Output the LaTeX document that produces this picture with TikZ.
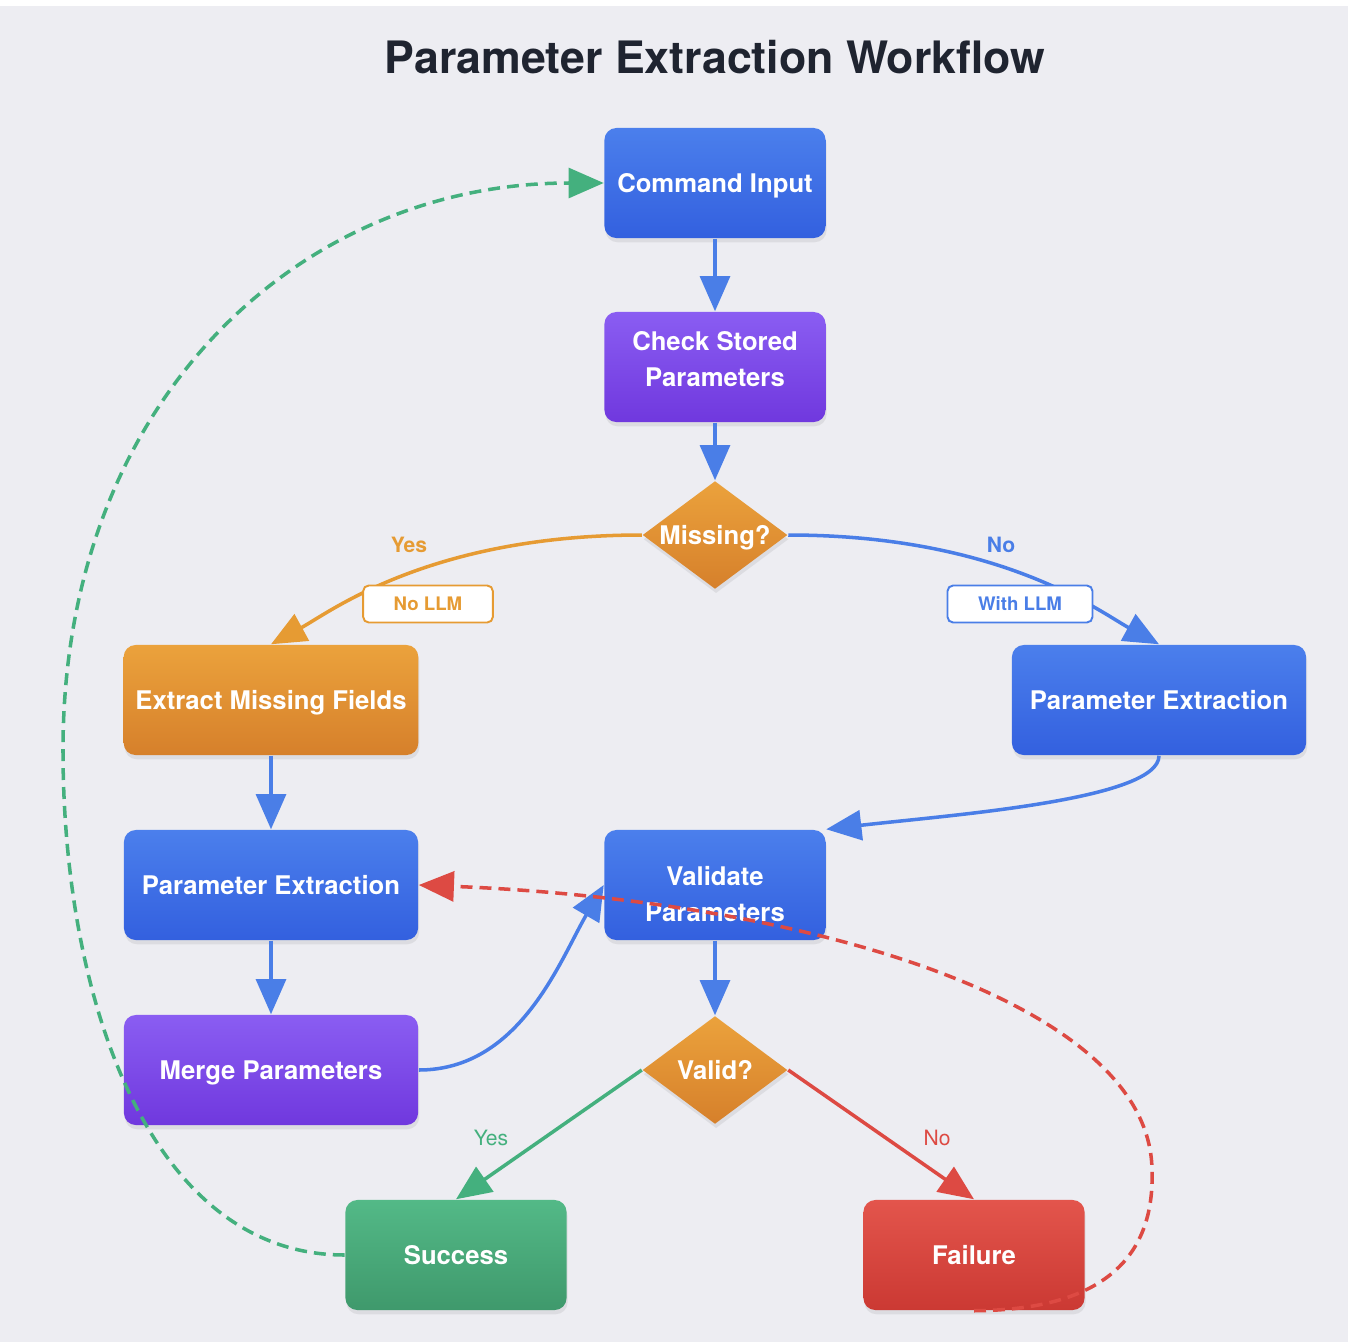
\documentclass[tikz,border=0pt]{standalone}
\usepackage{fontspec}
\setmainfont{TeX Gyre Heros}
\usetikzlibrary{arrows.meta, shapes.geometric, shadows}

\definecolor{bgcol}{HTML}{EDEDF2}
\definecolor{titlecol}{HTML}{1F2430}
\definecolor{blueT}{HTML}{4B7FEC}
\definecolor{blueB}{HTML}{3360DF}
\definecolor{purpT}{HTML}{8A5DF2}
\definecolor{purpB}{HTML}{7038DE}
\definecolor{orT}{HTML}{EBA23C}
\definecolor{orB}{HTML}{D6802B}
\definecolor{grT}{HTML}{53B987}
\definecolor{grB}{HTML}{3F996C}
\definecolor{rdT}{HTML}{E3554C}
\definecolor{rdB}{HTML}{CB3933}
\definecolor{bline}{HTML}{4A7EE7}
\definecolor{oline}{HTML}{E69B33}
\definecolor{gline}{HTML}{44B07E}
\definecolor{rline}{HTML}{DD4A43}

\begin{document}
\begin{tikzpicture}[x=0.01cm, y=-0.01cm,
    box/.style={rounded corners=3.4pt, minimum width=2.21cm, minimum height=1.1cm,
      align=center, text=white, text depth=0pt, font=\fontsize{7.3}{10.3}\selectfont\bfseries,
      drop shadow={opacity=0.15, shadow xshift=0.3pt, shadow yshift=-1.2pt}},
    wide/.style={box, minimum width=2.94cm},
    bluefill/.style={top color=blueT, bottom color=blueB},
    purplefill/.style={top color=purpT, bottom color=purpB},
    orangefill/.style={top color=orT, bottom color=orB},
    greenfill/.style={top color=grT, bottom color=grB},
    redfill/.style={top color=rdT, bottom color=rdB},
    decision/.style={diamond, aspect=1.34, minimum width=1.45cm, minimum height=1.08cm,
      inner sep=-1.5pt, orangefill, text=white, text depth=0pt,
      font=\fontsize{7.3}{9}\selectfont\bfseries,
      drop shadow={opacity=0.15, shadow xshift=0.3pt, shadow yshift=-1.2pt}},
    flow/.style={line width=1pt, -{Triangle[length=10pt, width=8.5pt]}},
    loopback/.style={flow, dash pattern=on 3.4pt off 2pt},
    tag/.style={draw, fill=white, rounded corners=1.6pt, line width=0.55pt,
      minimum height=0.37cm, inner xsep=8.7pt, inner ysep=0pt,
      font=\fontsize{5.3}{6}\selectfont\bfseries},
    branch/.style={font=\fontsize{6}{7}\selectfont\bfseries},
    verdict/.style={font=\fontsize{6}{7}\selectfont}
  ]

  % 1. Background and title
  \useasboundingbox (0,0) rectangle (1348,1342);
  \fill[bgcol] (0,0) rectangle (1348,1342);
  \fill[white] (0,0) rectangle (1348,6);
  \node[font=\fontsize{12.7}{15}\selectfont\bfseries, text=titlecol] (title) at (715,57) {Parameter Extraction Workflow};

  % 2. Steps
  \node[box, bluefill]   (cmd)      at (715,183)  {Command Input};
  \node[box, purplefill, text depth=4.6pt] (check) at (715,367) {Check Stored\\Parameters};
  \node[decision]        (missing)  at (715,535)  {Missing?};
  \node[wide, orangefill](extract)  at (271,700)  {Extract Missing Fields};
  \node[wide, bluefill]  (pxright)  at (1159,700) {Parameter Extraction};
  \node[wide, bluefill]  (pxleft)   at (271,885)  {Parameter Extraction};
  \node[box, bluefill, text height=21pt] (validate) at (715,885) {Validate\\Parameters};
  \node[wide, purplefill](merge)    at (271,1070) {Merge Parameters};
  \node[decision]        (valid)    at (715,1070) {Valid?};
  \node[box, greenfill]  (success)  at (456,1255) {Success};
  \node[box, redfill]    (failure)  at (974,1255) {Failure};

  % 3. Arrows
  \draw[flow, bline] (cmd) -- (check);
  \draw[flow, bline] (check) -- (missing);
  \draw[flow, oline] (missing.west) .. controls (430,535) and (330,612) .. (extract.north);
  \draw[flow, bline] (missing.east) .. controls (1000,535) and (1100,612) .. (pxright.north);
  \draw[flow, bline] (pxright.south) .. controls (1159,800) and (950,815) .. (validate.north east);
  \draw[flow, bline] (extract) -- (pxleft);
  \draw[flow, bline] (pxleft) -- (merge);
  \draw[flow, bline] (merge.east) .. controls (520,1070) and (560,960) .. (validate.west);
  \draw[flow, bline] (validate) -- (valid);
  \draw[flow, gline] (valid.west) -- (success.north);
  \draw[flow, rline] (valid.east) -- (failure.north);

  % 4. Retry loops
  \draw[loopback, gline] (success.west) .. controls (150,1255) and (63,1000) .. (63,750)
    .. controls (63,400) and (300,183) .. (cmd.west);
  \draw[loopback, rline] (failure.south) .. controls (1100,1310) and (1155,1260) .. (1152,1170)
    .. controls (1150,1000) and (800,900) .. (pxleft.east);

  % 5. Labels
  \node[branch, text=oline] (yesA) at (409,545) {Yes};
  \node[tag, draw=oline, text=oline] (nollm) at (428,604) {No LLM};
  \node[branch, text=bline] (noA) at (1001,545) {No};
  \node[tag, draw=bline, text=bline] (withllm) at (1020,604) {With LLM};
  \node[verdict, text=gline] (yesB) at (491,1138) {Yes};
  \node[verdict, text=rline] (noB) at (937,1138) {No};

\end{tikzpicture}
\end{document}
